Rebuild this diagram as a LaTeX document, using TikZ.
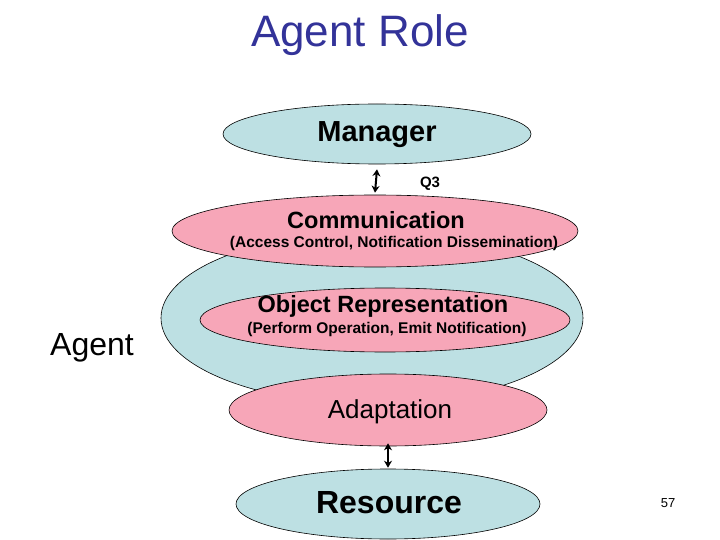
\documentclass[tikz,border=0pt]{standalone}
\usepackage{fontspec}
\setmainfont{Liberation Sans}
\usetikzlibrary{shapes.geometric,arrows.meta,calc}
\definecolor{lblue}{HTML}{BDE0E3}
\definecolor{lpink}{HTML}{F7A6B8}
\definecolor{ttl}{HTML}{333399}
\tikzset{
  ell/.style={ellipse,draw=black,line width=0.6pt,inner sep=0pt},
  blue/.style={ell,fill=lblue},
  pink/.style={ell,fill=lpink},
  dbl/.style={{Stealth[length=7pt,width=8pt]}-{Stealth[length=7pt,width=8pt]},line width=2pt},
  sub/.style={font=\bfseries\fontsize{15.5}{17}\selectfont}
}
\begin{document}
\begin{tikzpicture}[x=1pt,y=-1pt]
\useasboundingbox (0,0) rectangle (720,540);
\node[font=\fontsize{44}{48}\selectfont,text=ttl] (title) at (360,35) {Agent Role};
\node[blue,minimum width=308,minimum height=60] (mgr) at (377,134) {};
\node[font=\bfseries\fontsize{29}{31}\selectfont] (mgrt) at (377,135) {Manager};
\node[blue,minimum width=422,minimum height=172] (agent) at (372,318) {};
\node[pink,minimum width=406,minimum height=72] (comm) at (375,231) {};
\node[font=\bfseries\fontsize{23.5}{25}\selectfont] (commt) at (376,220) {Communication};
\node[sub] (comms) at (394,243) {(Access Control, Notification Dissemination)};
\node[pink,minimum width=370,minimum height=64] (obj) at (385,320) {};
\node[font=\bfseries\fontsize{23.5}{25}\selectfont] (objt) at (383,306) {Object Representation};
\node[sub] (objs) at (387,329) {(Perform Operation, Emit Notification)};
\node[pink,minimum width=318,minimum height=72] (adapt) at (388,410) {};
\node[font=\fontsize{26}{28}\selectfont] (adaptt) at (390,412) {Adaptation};
\node[blue,minimum width=304,minimum height=70] (res) at (388,504) {};
\node[font=\bfseries\fontsize{32}{34}\selectfont] (rest) at (389,503) {Resource};
\node[font=\fontsize{32}{34}\selectfont] (agt) at (92,348) {Agent};
\node[font=\fontsize{13}{15}\selectfont] (pg) at (668,503) {57};
\node[font=\bfseries\fontsize{15}{17}\selectfont] (q3) at (430,184) {Q3};
\draw[dbl] ($(mgr.south)+(0,5)$) -- ($(comm.north)+(0,-2)$);
\draw[dbl] ($(adapt.south)+(0,-3)$) -- ($(res.north)+(0,-1)$);
\end{tikzpicture}
\end{document}
